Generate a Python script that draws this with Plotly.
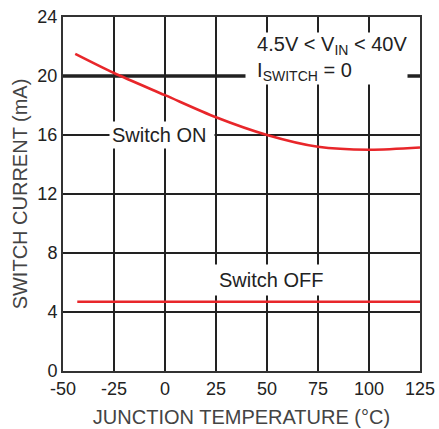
import plotly.graph_objects as go

temp_on = [-44, -25, 0, 25, 50, 75, 100, 125]
current_on = [21.5, 20.2, 18.7, 17.2, 16.0, 15.2, 15.0, 15.15]
temp_off = [-43, 125]
current_off = [4.7, 4.7]

x_ticks = [-50, -25, 0, 25, 50, 75, 100, 125]
y_ticks = [0, 4, 8, 12, 16, 20, 24]

RED = "#e8262a"
GRID = "#222222"
FONT = "Liberation Sans, Arial, sans-serif"

fig = go.Figure()
fig.add_trace(go.Scatter(x=temp_on, y=current_on, mode="lines",
                         line=dict(color=RED, width=2.6, shape="spline", smoothing=0.8),
                         showlegend=False, hoverinfo="skip"))
fig.add_trace(go.Scatter(x=temp_off, y=current_off, mode="lines",
                         line=dict(color=RED, width=2.6),
                         showlegend=False, hoverinfo="skip"))

# thick line at 20 mA
fig.add_shape(type="line", xref="x", yref="y", x0=-50, x1=125, y0=20, y1=20,
              line=dict(color=GRID, width=3.5), layer="below")

fig.add_annotation(x=-1.5, y=16, text="Switch ON&nbsp;", showarrow=False,
                   font=dict(size=20, color="#222", family=FONT),
                   bgcolor="white", borderpad=2, xanchor="center", yanchor="middle")
fig.add_annotation(x=52, y=6.2, text="Switch OFF", showarrow=False,
                   font=dict(size=20, color="#222", family=FONT),
                   bgcolor="white", borderpad=4, xanchor="center", yanchor="middle")
fig.add_annotation(x=39, y=21.2,
                   text="&nbsp;&nbsp;4.5V &lt; V<sub>IN</sub> &lt; 40V<br>&nbsp;&nbsp;I<sub>SWITCH</sub> = 0",
                   showarrow=False, align="left",
                   font=dict(size=20, color="#222", family=FONT),
                   bgcolor="white", borderpad=0, xanchor="left", yanchor="middle")

fig.update_xaxes(range=[-50, 125], tickvals=x_ticks, ticktext=[str(v) for v in x_ticks],
                 showgrid=True, gridcolor=GRID, gridwidth=2,
                 showline=True, linecolor="#333", linewidth=2, mirror=True,
                 zeroline=False, ticks="", automargin=False, ticklabeloverflow="allow",
                 tickfont=dict(size=18, color="#222", family=FONT),
                 title=dict(text="JUNCTION TEMPERATURE (°C)", standoff=12,
                            font=dict(size=20, color="#444", family=FONT)))
fig.update_yaxes(range=[0, 24], tickvals=y_ticks, ticktext=[str(v) for v in y_ticks],
                 showgrid=True, gridcolor=GRID, gridwidth=2,
                 showline=True, linecolor="#333", linewidth=2, mirror=True,
                 zeroline=False, ticks="", automargin=False, ticklabeloverflow="allow",
                 tickfont=dict(size=18, color="#222", family=FONT),
                 title=dict(text="SWITCH CURRENT (mA)", standoff=4,
                            font=dict(size=20, color="#444", family=FONT)))

fig.update_layout(width=439, height=429,
                  margin=dict(l=63, r=19, t=17, b=58, autoexpand=False),
                  paper_bgcolor="white", plot_bgcolor="white",
                  font=dict(family=FONT))

fig.write_html("out.html",
               config={"displayModeBar": False},
               post_script="document.body.style.margin='0';"
                           "document.documentElement.style.overflow='hidden';")
